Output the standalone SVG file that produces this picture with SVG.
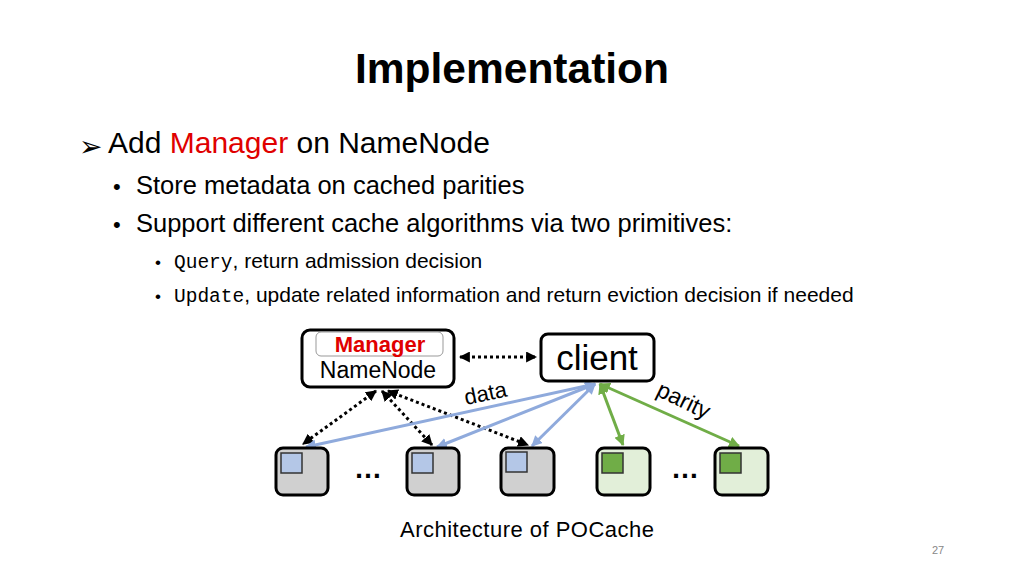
<svg xmlns="http://www.w3.org/2000/svg" width="1024" height="576" viewBox="0 0 1024 576">
<style>
.t{font-family:"Liberation Sans",Arial,sans-serif;fill:#000}
.m{font-family:"Liberation Mono","DejaVu Sans Mono",monospace}
.c{font-family:"Liberation Sans",Arial,sans-serif;fill:#000}
.box{fill:#fff;stroke:#000;stroke-width:3}
.dn{fill:#d0d0d0;stroke:#000;stroke-width:3}
.pn{fill:#e2efd9;stroke:#000;stroke-width:3}
.ib{fill:#b4c7e7;stroke:#333;stroke-width:1.5}
.ig{fill:#70ad47;stroke:#333;stroke-width:1.5}
.dot{fill:none;stroke:#000;stroke-width:3;stroke-dasharray:3 3}
.bl{fill:none;stroke:#8faadc;stroke-width:3}
.gr{fill:none;stroke:#70ad47;stroke-width:3}
</style>
<defs>
<marker id="ak" viewBox="0 0 10 10" refX="9" refY="5" markerWidth="11" markerHeight="11" markerUnits="userSpaceOnUse" orient="auto-start-reverse"><path d="M0,0 L10,5 L0,10 z" fill="#000"/></marker>
<marker id="ab" viewBox="0 0 10 10" refX="9" refY="5" markerWidth="11" markerHeight="11" markerUnits="userSpaceOnUse" orient="auto-start-reverse"><path d="M0,0 L10,5 L0,10 z" fill="#8faadc"/></marker>
<marker id="ag" viewBox="0 0 10 10" refX="9" refY="5" markerWidth="11" markerHeight="11" markerUnits="userSpaceOnUse" orient="auto-start-reverse"><path d="M0,0 L10,5 L0,10 z" fill="#70ad47"/></marker>
</defs>
<rect width="1024" height="576" fill="#fff"/>

<text class="t" x="512" y="83" font-size="42.5" font-weight="bold" text-anchor="middle">Implementation</text>

<text x="79" y="156" font-size="28" font-family="DejaVu Sans,sans-serif">➢</text>
<text class="t" x="108" y="153" font-size="30">Add <tspan fill="#e00000">Manager</tspan> on NameNode</text>
<text class="t" x="113" y="194" font-size="22">•</text>
<text class="t" x="136" y="194" font-size="25.5">Store metadata on cached parities</text>
<text class="t" x="113" y="232" font-size="22">•</text>
<text class="t" x="136" y="232" font-size="25.5">Support different cache algorithms via two primitives:</text>
<text class="t" x="155" y="268" font-size="17">•</text>
<text class="t" x="174" y="268" font-size="21"><tspan class="m" font-size="19.5">Query</tspan>, return admission decision</text>
<text class="t" x="155" y="302" font-size="17">•</text>
<text class="t" x="174" y="302" font-size="21"><tspan class="m" font-size="19.5">Update</tspan>, update related information and return eviction decision if needed</text>

<g id="connectors">
<line class="dot" x1="460" y1="357" x2="536" y2="357" marker-start="url(#ak)" marker-end="url(#ak)"/>
<line class="dot" x1="376" y1="391" x2="303" y2="444" marker-start="url(#ak)" marker-end="url(#ak)"/>
<line class="dot" x1="382" y1="391" x2="432" y2="445" marker-start="url(#ak)" marker-end="url(#ak)"/>
<line class="dot" x1="388" y1="391" x2="528" y2="445" marker-start="url(#ak)" marker-end="url(#ak)"/>
<line class="bl" x1="595" y1="384" x2="306" y2="447" marker-start="url(#ab)" marker-end="url(#ab)"/>
<line class="bl" x1="595" y1="384" x2="437" y2="447" marker-start="url(#ab)" marker-end="url(#ab)"/>
<line class="bl" x1="595" y1="384" x2="532" y2="446" marker-start="url(#ab)" marker-end="url(#ab)"/>
<line class="gr" x1="600" y1="384" x2="623" y2="445" marker-start="url(#ag)" marker-end="url(#ag)"/>
<line class="gr" x1="600" y1="384" x2="739" y2="446" marker-start="url(#ag)" marker-end="url(#ag)"/>
<text class="c" font-size="22" transform="translate(466,405) rotate(-12)">data</text>
<text class="c" font-size="23" transform="translate(655,395) rotate(26)">parity</text>
</g>

<g id="namenode">
<rect class="box" x="302" y="330" width="152" height="57" rx="8"/>
<rect x="316" y="332" width="127" height="24" rx="5" fill="#fff" stroke="#999" stroke-width="1"/>
<text class="c" x="380" y="352" font-size="22" font-weight="bold" text-anchor="middle" style="fill:#e00000">Manager</text>
<text class="c" x="378" y="378" font-size="23" text-anchor="middle">NameNode</text>
</g>

<g id="client">
<rect class="box" x="541" y="334" width="113" height="47" rx="7"/>
<text class="c" x="597" y="370" font-size="35" text-anchor="middle">client</text>
</g>

<g id="dn1"><rect class="dn" x="276" y="448" width="52" height="47" rx="7"/><rect class="ib" x="281" y="453" width="21" height="20"/></g>
<g id="dots1"><text class="c" x="368" y="478" font-size="28" font-weight="bold" text-anchor="middle">…</text></g>
<g id="dn2"><rect class="dn" x="407" y="448" width="52" height="47" rx="7"/><rect class="ib" x="412" y="453" width="21" height="20"/></g>
<g id="dn3"><rect class="dn" x="501" y="448" width="53" height="47" rx="7"/><rect class="ib" x="506" y="452" width="21" height="20"/></g>
<g id="pn1"><rect class="pn" x="597" y="448" width="53" height="47" rx="7"/><rect class="ig" x="602" y="453" width="21" height="20"/></g>
<g id="dots2"><text class="c" x="685" y="478" font-size="28" font-weight="bold" text-anchor="middle">…</text></g>
<g id="pn2"><rect class="pn" x="715" y="448" width="53" height="47" rx="7"/><rect class="ig" x="720" y="453" width="21" height="20"/></g>

<text class="c" x="527" y="537" font-size="22" text-anchor="middle" textLength="254">Architecture of POCache</text>
<text class="c" x="938" y="554" font-size="11" text-anchor="middle" style="fill:#888">27</text>
</svg>
